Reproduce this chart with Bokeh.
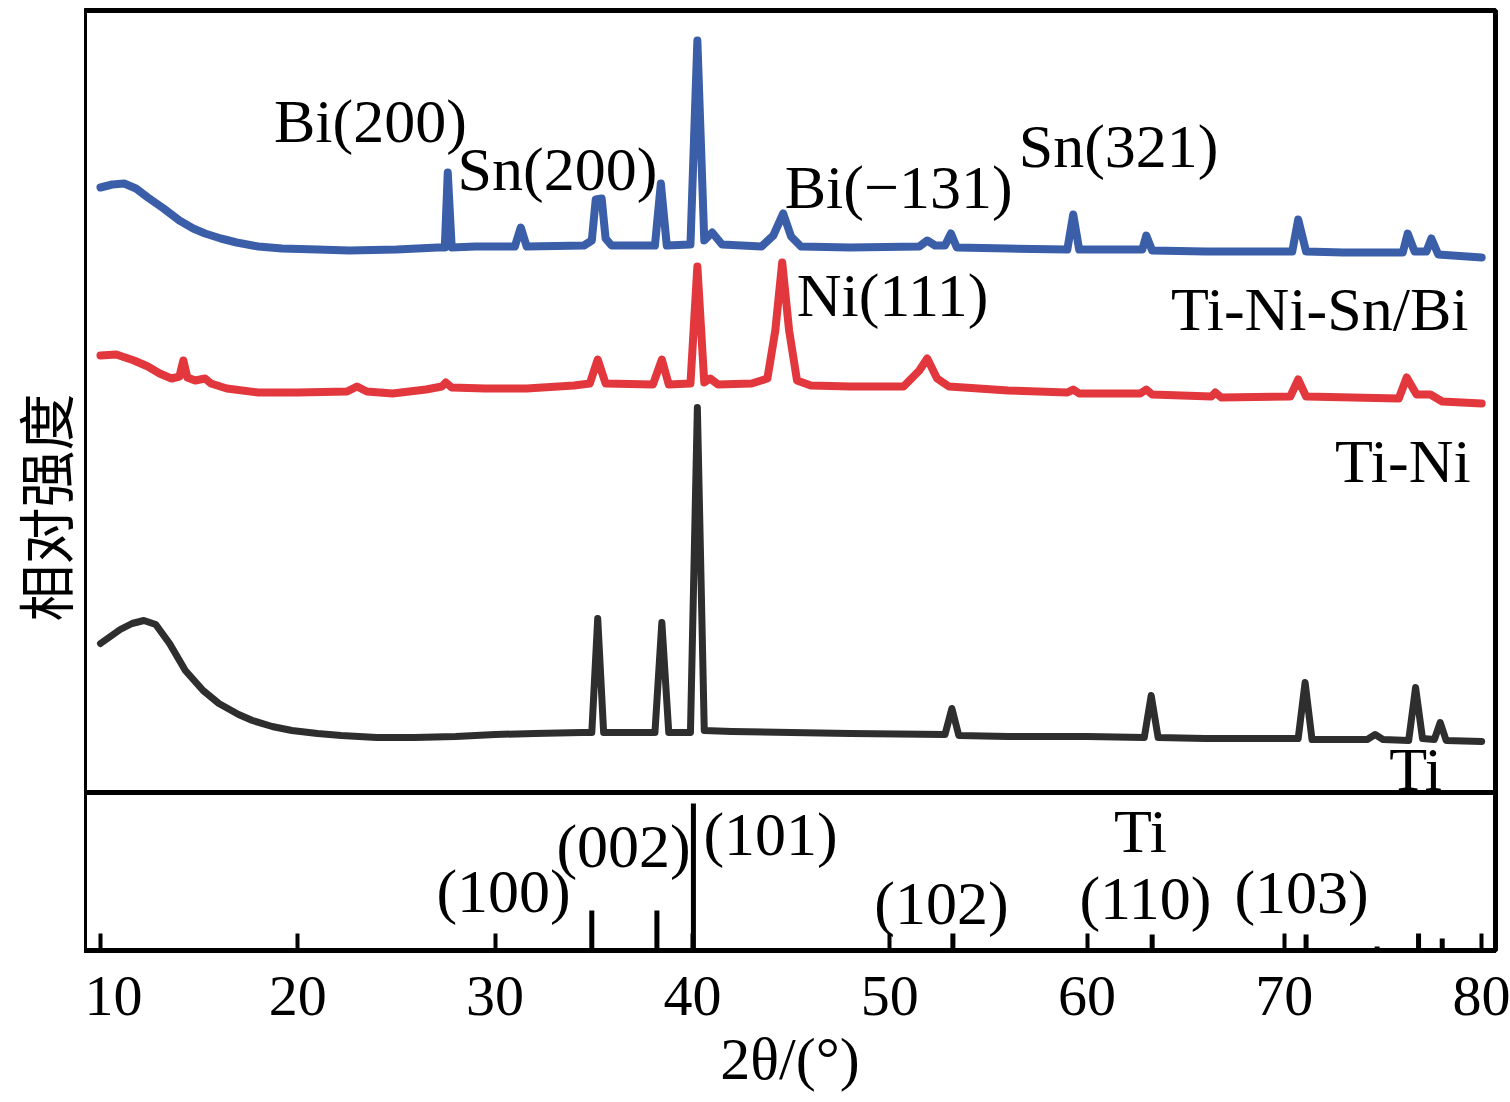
import numpy as np
from bokeh.plotting import figure
from bokeh.layouts import row
from bokeh.models import Range1d, Span
from bokeh.core.properties import value
from bokeh.embed import file_html
from bokeh.resources import INLINE

# ---------------- data (2theta in degrees, intensity in a.u., curves stacked) ----------------
ti_2theta = [10.0, 10.5, 11.0, 11.6, 12.2, 12.8, 13.5, 14.3, 15.2, 16.0, 17.0, 17.7, 18.7, 19.7,
             21.0, 22.2, 24.0, 25.9, 28.0, 30.0, 32.0, 34.4, 34.9, 35.2, 35.5, 38.1, 38.45, 38.8,
             39.9, 40.25, 40.6, 42.0, 45.0, 48.0, 52.8, 53.15, 53.5, 56.0, 60.0, 62.9, 63.25, 63.6,
             66.0, 70.7, 71.05, 71.4, 74.2, 74.6, 75.0, 76.3, 76.65, 77.0, 77.6, 77.9, 78.2, 80.0]
ti_int = [307, 314, 321, 327, 330, 326, 307, 280, 260, 247, 236, 230, 224, 220,
          217, 215, 213, 213, 214, 216, 217, 218, 218, 332, 218, 218, 328, 218,
          218, 543, 220, 219, 218, 217, 216, 242, 215, 214, 214, 213, 255, 213,
          212, 212, 268, 211, 211, 216, 211, 210, 263, 212, 211, 228, 210, 209]

tini_2theta = [10.0, 10.8, 11.7, 12.4, 13.0, 13.6, 14.0, 14.2, 14.4, 14.8, 15.3, 15.6, 16.4, 18.0,
               20.0, 22.5, 23.0, 23.5, 24.8, 26.5, 27.3, 27.5, 27.8, 29.5, 31.6, 34.0, 34.8, 35.2,
               35.6, 38.0, 38.45, 38.8, 39.9, 40.25, 40.6, 40.9, 41.3, 43.0, 43.8, 44.2, 44.55, 44.9,
               45.3, 46.0, 48.0, 50.7, 51.5, 51.9, 52.4, 53.0, 56.0, 59.0, 59.3, 59.6, 62.7, 63.0,
               63.3, 66.3, 66.5, 66.8, 70.3, 70.7, 71.1, 75.8, 76.2, 76.7, 77.4, 78.0, 80.0]
tini_int = [595, 596, 590, 584, 577, 572, 574, 590, 573, 570, 572, 567, 562, 558,
            558, 559, 564, 559, 557, 561, 564, 568, 563, 562, 562, 565, 567, 591,
            567, 566, 591, 566, 567, 684, 568, 572, 566, 567, 572, 620, 688, 620,
            570, 565, 564, 564, 580, 592, 572, 564, 560, 558, 561, 557, 557, 561,
            556, 554, 558, 553, 554, 571, 554, 552, 573, 556, 556, 549, 547]

snbi_2theta = [10.0, 10.6, 11.2, 11.8, 12.4, 13.2, 14.0, 14.7, 15.3, 16.1, 16.9, 18.0, 19.2, 21.0,
               22.6, 25.0, 27.1, 27.45, 27.6, 27.8, 29.0, 31.0, 31.3, 31.6, 34.5, 34.9, 35.1, 35.4,
               35.6, 35.9, 38.1, 38.4, 38.7, 39.9, 40.25, 40.6, 41.0, 41.5, 43.5, 44.1, 44.6, 45.0,
               45.5, 48.0, 51.5, 51.9, 52.3, 52.8, 53.1, 53.4, 56.0, 59.0, 59.3, 59.6, 62.8, 63.0,
               63.3, 66.0, 70.4, 70.7, 71.1, 73.0, 76.0, 76.25, 76.6, 77.2, 77.45, 77.8, 80.0]
snbi_int = [763, 766, 767, 762, 753, 742, 730, 722, 717, 712, 708, 704, 702, 701,
            700, 701, 703, 703, 778, 703, 704, 704, 723, 704, 705, 710, 751, 752,
            712, 705, 705, 767, 705, 706, 910, 710, 718, 706, 704, 715, 737, 714,
            704, 703, 704, 710, 705, 705, 717, 703, 702, 701, 736, 701, 701, 715,
            700, 699, 699, 731, 699, 698, 698, 717, 699, 699, 712, 696, 693]

# Ti reference pattern (stick positions and relative heights)
ref_2theta = [34.9, 38.2, 40.05, 53.2, 63.3, 71.1, 74.7, 76.8, 78.0]
ref_int = [40, 40, 147, 17, 16, 16, 4, 17, 12]

x_ticks = [10, 20, 30, 40, 50, 60, 70, 80]

peak_labels = ["Bi(200)", "Sn(200)", "Bi(\u2212131)", "Sn(321)", "Ni(111)"]
peak_label_x = [23.68, 33.16, 50.45, 61.6, 50.14]
peak_label_y = [830, 782, 764, 805, 656]

sample_labels = ["Ti-Ni-Sn/Bi", "Ti-Ni"]
sample_label_x = [79.33, 79.44]
sample_label_y = [642, 490]

ref_labels = ["Ti", "(100)", "(002)", "(101)", "Ti", "(102)", "(110)", "(103)"]
ref_label_x = [76.65, 30.43, 36.51, 43.96, 62.71, 52.62, 62.96, 70.87]
ref_label_y = [182, 60, 105, 117, 120, 48, 53, 59]

y_title = "\u76f8\u5bf9\u5f3a\u5ea6"

panel_split = 158

SERIF = "Liberation Serif"

# ---------------- y-axis title strip ----------------
strip = figure(frame_width=84, frame_height=1000, output_backend="svg", toolbar_location=None,
               x_range=Range1d(0, 84), y_range=Range1d(0, 1000),
               min_border_left=0, min_border_right=0, min_border_top=0, min_border_bottom=0)
strip.xaxis.visible = False
strip.yaxis.visible = False
strip.grid.visible = False
strip.outline_line_color = None
strip.background_fill_color = "white"
strip.border_fill_color = "white"
strip.text(x=[42], y=[503], text=[y_title], angle=np.pi / 2,
           text_font=value("Noto Sans CJK SC"), text_font_size="57px", text_color="black",
           text_align="center", text_baseline="middle")

# ---------------- main figure ----------------
p = figure(frame_width=1411, frame_height=940, output_backend="svg", toolbar_location=None,
           x_range=Range1d(9.19, 80.70), y_range=Range1d(0, 940),
           min_border_left=0, min_border_right=15, min_border_top=10, min_border_bottom=0)
p.background_fill_color = "white"
p.border_fill_color = "white"
p.outline_line_color = "black"
p.outline_line_width = 5
p.grid.visible = False
p.yaxis.visible = False

ax = p.xaxis[0]
ax.ticker = x_ticks
ax.axis_line_width = 5
ax.axis_line_color = "black"
ax.major_tick_in = 17
ax.major_tick_out = 0
ax.major_tick_line_width = 4
ax.major_tick_line_color = "black"
ax.minor_tick_line_color = None
ax.major_label_text_font = SERIF
ax.major_label_text_font_size = "58px"
ax.major_label_text_color = "black"
ax.major_label_standoff = 26
ax.axis_label = "2\u03b8/(\u00b0)"
ax.axis_label_text_font = SERIF
ax.axis_label_text_font_size = "60px"
ax.axis_label_text_font_style = "normal"
ax.axis_label_text_color = "black"
ax.axis_label_standoff = 8

# panel separator
p.add_layout(Span(location=panel_split, dimension="width", line_color="black", line_width=5))

# curves
common = dict(line_join="round", line_cap="round")
p.line(ti_2theta, ti_int, line_color="#2e2e2e", line_width=7, **common)
p.line(tini_2theta, tini_int, line_color="#e2373c", line_width=8, **common)
p.line(snbi_2theta, snbi_int, line_color="#3b5ea8", line_width=8, **common)

# reference sticks
p.segment(x0=ref_2theta, y0=[0] * len(ref_2theta), x1=ref_2theta, y1=ref_int,
          line_color="black", line_width=5)

# text annotations
txt = dict(text_font=value(SERIF), text_font_size="62px", text_color="black",
           text_baseline="middle")
p.text(x=peak_label_x, y=peak_label_y, text=peak_labels, text_align="center", **txt)
p.text(x=sample_label_x, y=sample_label_y, text=sample_labels, text_align="right", **txt)
p.text(x=ref_label_x, y=ref_label_y, text=ref_labels, text_align="center", **txt)

layout = row(strip, p, spacing=0)
open("out.html", "w").write(file_html(layout, INLINE))
